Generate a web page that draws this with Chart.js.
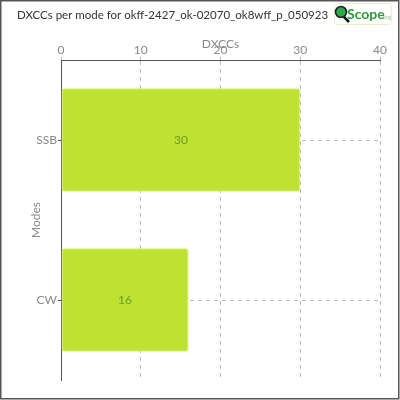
<!DOCTYPE html>
<html>
<head>
<meta charset="utf-8">
<script src="https://cdn.jsdelivr.net/npm/chart.js@4.4.0/dist/chart.umd.min.js"></script>
<style>
html,body{margin:0;padding:0;background:#fff;}
#wrap{width:400px;height:400px;position:relative;}
</style>
</head>
<body>
<div id="wrap"><canvas id="c" width="400" height="400"></canvas></div>
<script>
const categories = ["SSB", "CW"];
const dxccValues = [30, 16];
const xTicks = [0, 10, 20, 30, 40];
const chartTitle = "DXCCs per mode for okff-2427_ok-02070_ok8wff_p_050923";
const xTitle = "DXCCs";
const yTitle = "Modes";

const FONT = "Lato, 'Open Sans', sans-serif";

// pick a title size so that the title fits the space left of the logo
function fitTitleSize(text, maxWidth) {
  const m = document.createElement('canvas').getContext('2d');
  let size = 13;
  while (size > 8) {
    m.font = size + "px " + FONT;
    if (m.measureText(text).width <= maxWidth) break;
    size -= 0.25;
  }
  return size;
}
const titleSize = fitTitleSize(chartTitle, 316);

const decor = {
  id: 'decor',
  afterDatasetsDraw(chart) {
    const ctx = chart.ctx;
    const meta = chart.getDatasetMeta(0);
    ctx.save();
    ctx.font = "12px " + FONT;
    ctx.fillStyle = "#6f9a2c";
    ctx.textAlign = "center";
    ctx.textBaseline = "middle";
    meta.data.forEach((el, i) => {
      const cx = (el.base + el.x) / 2;
      ctx.fillText(String(dxccValues[i]), cx, el.y);
    });
    ctx.restore();
  },
  afterDraw(chart) {
    const ctx = chart.ctx;
    ctx.save();
    // outer border
    ctx.strokeStyle = "#555";
    ctx.lineWidth = 1.5;
    ctx.strokeRect(0.75, 0.75, 398, 398);
    // logo box
    ctx.fillStyle = "#fff";
    ctx.strokeStyle = "#e6efc6";
    ctx.lineWidth = 1;
    ctx.beginPath();
    ctx.roundRect(334.5, 3.5, 57, 21, 3);
    ctx.fill();
    ctx.stroke();
    // magnifier handle
    ctx.strokeStyle = "#111";
    ctx.lineWidth = 2.5;
    ctx.beginPath();
    ctx.moveTo(344, 17);
    ctx.lineTo(349, 22);
    ctx.stroke();
    // magnifier glass
    ctx.beginPath();
    ctx.arc(341, 12, 5.5, 0, Math.PI * 2);
    ctx.fillStyle = "#2aa84a";
    ctx.fill();
    ctx.lineWidth = 1.5;
    ctx.strokeStyle = "#1a1a1a";
    ctx.stroke();
    // logo text
    ctx.fillStyle = "#2f9b3a";
    ctx.font = "bold 14px " + FONT;
    ctx.textBaseline = "alphabetic";
    ctx.textAlign = "left";
    ctx.fillText("Scope", 347, 19);
    ctx.fillStyle = "#9cc98f";
    ctx.font = "6px " + FONT;
    ctx.fillText(".org", 381, 19);
    ctx.restore();
  }
};

new Chart(document.getElementById('c'), {
  type: 'bar',
  data: {
    labels: categories,
    datasets: [{
      label: xTitle,
      data: dxccValues,
      backgroundColor: '#bde232',
      borderColor: '#d6ef62',
      borderWidth: 1,
      borderRadius: 3,
      borderSkipped: false,
      categoryPercentage: 0.8,
      barPercentage: 0.81
    }]
  },
  options: {
    indexAxis: 'y',
    responsive: false,
    animation: false,
    devicePixelRatio: 1,
    layout: { padding: { left: 17, right: 20, bottom: 20, top: 0 } },
    plugins: {
      legend: { display: false },
      tooltip: { enabled: false },
      title: {
        display: true,
        text: chartTitle,
        align: 'start',
        color: '#333',
        font: { family: FONT, size: titleSize, weight: 'normal', lineHeight: 15.6 / titleSize },
        padding: { top: 7, bottom: 4 }
      }
    },
    scales: {
      x: {
        position: 'top',
        min: 0,
        max: 40,
        afterBuildTicks(scale) { scale.ticks = xTicks.map(v => ({ value: v })); },
        afterFit(scale) { scale.height = 60 - 26.6; },
        ticks: { color: '#888', font: { family: FONT, size: 12 }, padding: 0 },
        grid: { color: '#bbb', tickLength: 3, drawTicks: true, tickBorderDash: [] },
        border: { display: true, color: '#555', width: 1, dash: [4, 4] },
        title: { display: true, text: xTitle, color: '#888', font: { family: FONT, size: 12 }, padding: { top: 10, bottom: 0 } }
      },
      y: {
        afterFit(scale) { scale.width = 44; },
        ticks: { color: '#888', font: { family: FONT, size: 12 }, padding: 1 },
        grid: { offset: false, color: '#bbb', tickLength: 3, tickColor: '#555', tickBorderDash: [] },
        border: { display: true, color: '#555', width: 1, dash: [4, 4] },
        title: { display: true, text: yTitle, color: '#888', font: { family: FONT, size: 12 }, padding: { top: 12, bottom: 0 } }
      }
    }
  },
  plugins: [decor]
});
</script>
</body>
</html>
